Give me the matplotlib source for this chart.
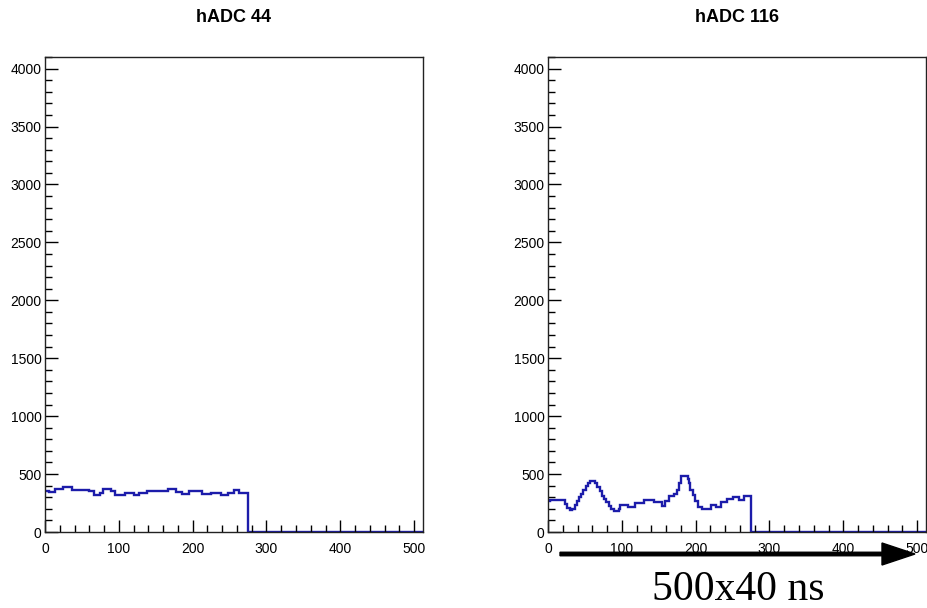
import matplotlib
matplotlib.use("Agg")
import matplotlib.pyplot as plt
import matplotlib.patches as mpatches
from matplotlib.ticker import MultipleLocator

# ==========================================
# Waveform data: step levels per bin range
# ==========================================
adc44_edges = [0, 5, 13, 25, 36, 59, 66, 75, 79, 89, 95, 109, 120, 127, 138,
               157, 166, 177, 186, 195, 204, 213, 225, 238, 248, 256, 263, 275, 512]
adc44_counts = [355, 345, 368, 388, 360, 350, 320, 340, 372, 350, 318, 340, 320, 340,
                355, 350, 372, 345, 325, 350, 355, 330, 340, 320, 340, 362, 340, 0]

adc116_edges = [0, 3, 23, 26, 30, 33, 36, 39, 42, 45, 48, 51, 54, 57, 64, 67, 70, 73,
                76, 79, 82, 85, 89, 96, 98, 109, 118, 130, 144, 155, 159, 164, 171,
                175, 178, 180, 189, 191, 193, 196, 199, 203, 209, 221, 227, 234, 243,
                250, 259, 266, 275, 512]
adc116_counts = [270, 280, 240, 205, 188, 200, 230, 265, 300, 330, 365, 395, 420, 440,
                 420, 385, 350, 315, 285, 255, 225, 200, 180, 195, 232, 220, 248, 280,
                 262, 228, 270, 315, 325, 360, 420, 485, 455, 420, 365, 320, 265, 215,
                 195, 232, 212, 255, 285, 298, 272, 312, 0]

panels = [
    ("hADC 44", adc44_edges, adc44_counts, 45),
    ("hADC 116", adc116_edges, adc116_counts, 548),
]

W, H = 927, 608
fig = plt.figure(figsize=(W / 100, H / 100), dpi=100)
plt.rcParams['font.family'] = ['Liberation Sans', 'DejaVu Sans']

line_color = '#1c1caa'

# ==========================================
# Draw both histograms
# ==========================================
for title, edges, counts, x0 in panels:
    ax = fig.add_axes([x0 / W, 1 - 532 / H, 378 / W, 475 / H])
    ax.stairs(counts, edges, baseline=None, color=line_color, linewidth=1.7)
    ax.set_xlim(0, 512)
    ax.set_ylim(0, 4100)

    ax.set_xticks(range(0, 501, 100))
    ax.set_yticks(range(0, 4001, 500))
    ax.xaxis.set_minor_locator(MultipleLocator(20))
    ax.yaxis.set_minor_locator(MultipleLocator(100))
    ax.tick_params(which='major', direction='in', length=9, width=1.0,
                   labelsize=10, top=False, right=False)
    ax.tick_params(which='minor', direction='in', length=4.8, width=1.0,
                   top=False, right=False)
    ax.tick_params(axis='x', pad=7)
    ax.tick_params(axis='y', pad=2.5)
    for s in ax.spines.values():
        s.set_linewidth(1.0)
        s.set_color('#222222')

    fig.text((x0 + 189) / W, 1 - 18 / H, title, ha='center', va='center',
             fontsize=13, fontweight='bold')

# ==========================================
# Time axis arrow and label
# ==========================================
arrow = mpatches.FancyArrow(5.60, (H - 554) / 100, 3.55, 0, width=0.035,
                            head_width=0.22, head_length=0.33,
                            length_includes_head=True, color='black',
                            transform=fig.dpi_scale_trans)
fig.patches.append(arrow)

fig.text(738 / W, 1 - 590 / H, "500x40 ns", ha='center', va='center',
         fontsize=30, family=['Liberation Serif', 'DejaVu Serif'])

fig.savefig("out.png", dpi=100)
